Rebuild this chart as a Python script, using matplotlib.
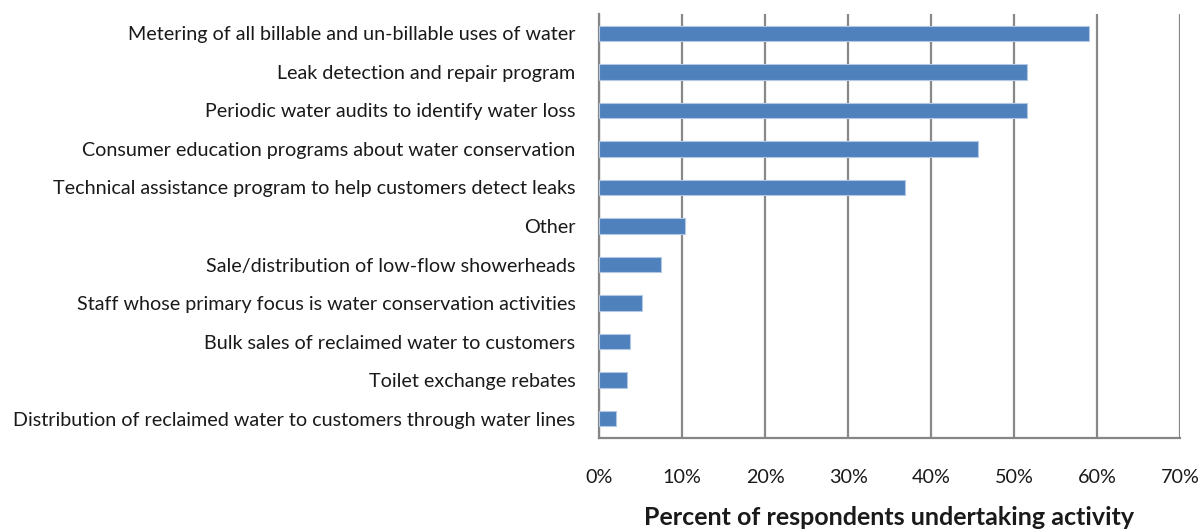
import numpy as np
import matplotlib
matplotlib.use("Agg")
import matplotlib.pyplot as plt

plt.rcParams['font.family'] = ['Lato', 'DejaVu Sans']

#%% data
activities = [
    "Metering of all billable and un-billable uses of water",
    "Leak detection and repair program",
    "Periodic water audits to identify water loss",
    "Consumer education programs about water conservation",
    "Technical assistance program to help customers detect leaks",
    "Other",
    "Sale/distribution of low-flow showerheads",
    "Staff whose primary focus is water conservation activities",
    "Bulk sales of reclaimed water to customers",
    "Toilet exchange rebates",
    "Distribution of reclaimed water to customers through water lines",
]
percent = [59.0, 51.5, 51.5, 45.6, 36.8, 10.3, 7.5, 5.2, 3.7, 3.4, 2.1]
xticks = [0, 10, 20, 30, 40, 50, 60, 70]
xticklabels = [f"{t}%" for t in xticks]

#%% plot
fig = plt.figure(figsize=(12, 5.31), dpi=100)
ax = fig.add_axes([0.4992, 0.1751, 0.4842, 0.7985])

y = np.arange(len(activities))
ax.barh(y, percent, height=0.4, color='#4f81bd', edgecolor='#b3c8e3', linewidth=0.8, zorder=3)

ax.set_ylim(len(activities) - 0.5, -0.5)
ax.set_xlim(0, 70)
ax.set_yticks(y)
ax.set_yticklabels(activities, fontsize=14.2, color='#1a1a1a')
ax.set_xticks(xticks)
ax.set_xticklabels(xticklabels, fontsize=14.2, color='#1a1a1a')
ax.tick_params(axis='both', length=0)
ax.tick_params(axis='x', pad=22)
ax.tick_params(axis='y', pad=17)

ax.grid(axis='x', color='#888888', linewidth=1.6, zorder=0)
for side in ['top', 'right']:
    ax.spines[side].set_visible(False)
for side in ['left', 'bottom']:
    ax.spines[side].set_color('#868686')
    ax.spines[side].set_linewidth(1.6)

ax.set_xlabel("Percent of respondents undertaking activity", fontsize=18,
              fontweight='bold', color='#1a1a1a', labelpad=15)

fig.savefig("out.png", dpi=100)
